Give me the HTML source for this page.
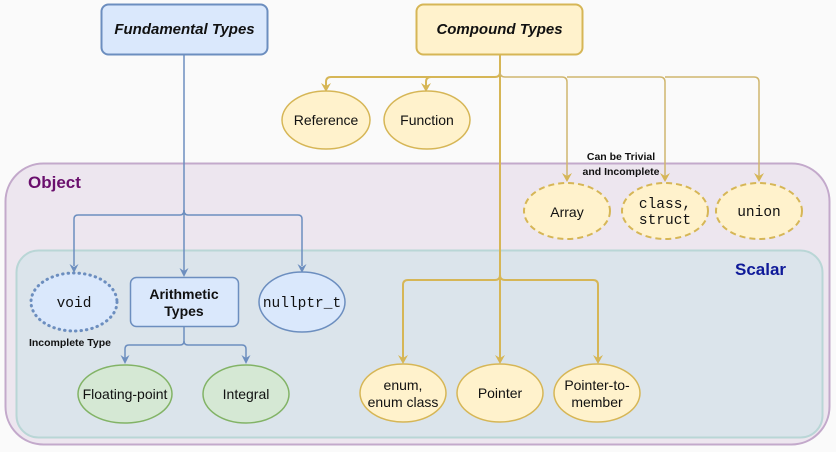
<!DOCTYPE html>
<html><head><meta charset="utf-8"><style>
html,body{margin:0;padding:0;background:#fafafa;}
svg{display:block;font-family:"Liberation Sans",sans-serif;}
.m{font-family:"Liberation Mono",monospace;}
</style></head><body>
<svg width="836" height="452" viewBox="0 0 836 452" xmlns="http://www.w3.org/2000/svg">
<rect width="836" height="452" fill="#fafafa"/>
<rect x="5.5" y="163.5" width="824" height="281" rx="38" fill="#ede6ef" stroke="#c3a9cb" stroke-width="2"/>
<rect x="16.5" y="250.5" width="806" height="187" rx="22" fill="#dbe4eb" stroke="#b9d6d6" stroke-width="2"/>
<text x="28" y="188" font-size="17" font-weight="bold" fill="#6a0f6d">Object</text>
<text x="735" y="275" font-size="17" font-weight="bold" fill="#0f1a99">Scalar</text>
<g fill="none" stroke="#6c8ebf" stroke-width="1.5">
<path d="M184,54 V272"/>
<path d="M184,210 Q184,215 180,215 H78 Q74,215 74,219 V266"/>
<path d="M184,210 Q184,215 188,215 H298 Q302,215 302,219 V266"/>
<path d="M184,327 V341 Q184,345 180,345 H129 Q125,345 125,349 V358"/>
<path d="M184,341 Q184,345 188,345 H242 Q246,345 246,349 V358"/>
</g>
<g fill="#6c8ebf">
<polygon points="69.5,264 74,273 78.5,264 74,267"/>
<polygon points="179.5,268 184,277 188.5,268 184,271"/>
<polygon points="297.5,264 302,273 306.5,264 302,267"/>
<polygon points="120.5,355 125,364 129.5,355 125,358"/>
<polygon points="241.5,355 246,364 250.5,355 246,358"/>
</g>
<g fill="none" stroke="#d6b656" stroke-width="2">
<path d="M500,54 V358"/>
<path d="M500,72 Q500,77 495,77 H331 Q326,77 326,82 V86"/>
<path d="M431,77 Q426,77 426,82 V86"/>
<path d="M500,275 Q500,280 495,280 H408 Q403,280 403,285 V358"/>
<path d="M500,275 Q500,280 505,280 H593 Q598,280 598,285 V358"/>
</g>
<g fill="none" stroke="#d0b66e" stroke-width="1.5">
<path d="M500,72 Q500,77 505,77 H562 Q567,77 567,82 V176"/>
<path d="M567,77 H660 Q665,77 665,82 V176"/>
<path d="M665,77 H754 Q759,77 759,82 V176"/>
</g>
<g fill="#d6b656">
<polygon points="321,83 326,92 331,83 326,86"/>
<polygon points="421,83 426,92 431,83 426,86"/>
<polygon points="562,173 567,182 572,173 567,176"/>
<polygon points="660,173 665,182 670,173 665,176"/>
<polygon points="754,173 759,182 764,173 759,176"/>
<polygon points="398,355 403,364 408,355 403,358"/>
<polygon points="495,355 500,364 505,355 500,358"/>
<polygon points="593,355 598,364 603,355 598,358"/>
</g>
<rect x="101.5" y="4.5" width="166" height="50" rx="7" fill="#dae8fc" stroke="#6c8ebf" stroke-width="2"/>
<text x="184.5" y="34" font-size="15" font-weight="bold" font-style="italic" text-anchor="middle" fill="#111">Fundamental Types</text>
<rect x="416.5" y="4.5" width="166" height="50" rx="7" fill="#fff2cc" stroke="#d6b656" stroke-width="2"/>
<text x="499.5" y="34" font-size="15" font-weight="bold" font-style="italic" text-anchor="middle" fill="#111">Compound Types</text>
<g fill="#fff2cc" stroke="#d6b656" stroke-width="1.5">
<ellipse cx="326" cy="120" rx="44" ry="29"/>
<ellipse cx="427" cy="120" rx="43" ry="29"/>
<ellipse cx="403" cy="393" rx="43" ry="29"/>
<ellipse cx="500" cy="393" rx="43" ry="29"/>
<ellipse cx="597" cy="393" rx="43" ry="29"/>
</g>
<g fill="#fff2cc" stroke="#d6b656" stroke-width="2" stroke-dasharray="6,4">
<ellipse cx="567" cy="211" rx="43" ry="28"/>
<ellipse cx="665" cy="211" rx="43" ry="28"/>
<ellipse cx="759" cy="211" rx="43" ry="28"/>
</g>
<g font-size="14" text-anchor="middle" fill="#111">
<text x="326" y="125">Reference</text>
<text x="427" y="125">Function</text>
<text x="567" y="217">Array</text>
<text x="403" y="390">enum,</text><text x="403" y="407">enum class</text>
<text x="500" y="398">Pointer</text>
<text x="597" y="390">Pointer-to-</text><text x="597" y="407">member</text>
</g>
<text x="621" y="160" font-size="10.5" font-weight="bold" text-anchor="middle" fill="#111">Can be Trivial</text>
<text x="621" y="175" font-size="10.5" font-weight="bold" text-anchor="middle" fill="#111">and Incomplete</text>
<ellipse cx="74" cy="302" rx="43" ry="29" fill="#dae8fc" stroke="#6c8ebf" stroke-width="3" stroke-dasharray="0.5,5" stroke-linecap="round"/>
<text x="70" y="346" font-size="10.5" font-weight="bold" text-anchor="middle" fill="#111">Incomplete Type</text>
<rect x="130.5" y="277.5" width="108" height="49" rx="6" fill="#dae8fc" stroke="#6c8ebf" stroke-width="1.5"/>
<text x="184" y="299" font-size="14" font-weight="bold" text-anchor="middle" fill="#111">Arithmetic</text>
<text x="184" y="316" font-size="14" font-weight="bold" text-anchor="middle" fill="#111">Types</text>
<ellipse cx="302" cy="302" rx="43" ry="30" fill="#dae8fc" stroke="#6c8ebf" stroke-width="1.5"/>
<ellipse cx="125" cy="394" rx="47" ry="29" fill="#d5e8d4" stroke="#82b366" stroke-width="1.5"/>
<ellipse cx="246" cy="394" rx="43" ry="29" fill="#d5e8d4" stroke="#82b366" stroke-width="1.5"/>
<g font-size="14" text-anchor="middle" fill="#111">
<text x="125" y="399">Floating-point</text>
<text x="246" y="399">Integral</text>
</g>
<g class="m" font-size="14.5" text-anchor="middle" fill="#111">
<text x="665" y="208">class,</text><text x="665" y="224">struct</text>
<text x="759" y="216">union</text>
<text x="74" y="307">void</text>
<text x="302" y="307">nullptr_t</text>
</g>
</svg>
</body></html>
